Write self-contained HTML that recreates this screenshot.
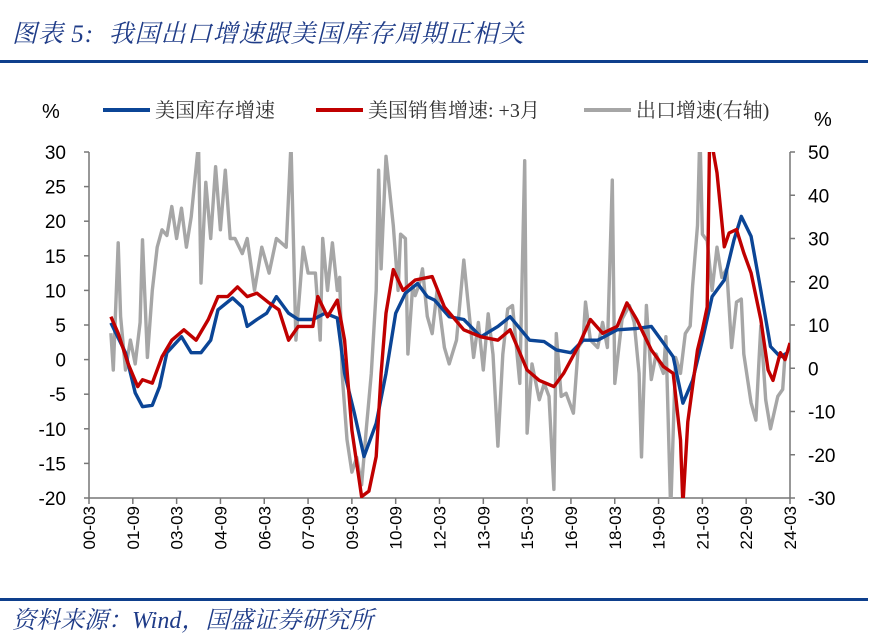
<!DOCTYPE html>
<html><head><meta charset="utf-8"><style>
body{margin:0;background:#fff;}
#wrap{position:relative;width:880px;height:637px;overflow:hidden;font-family:"Liberation Sans","Noto Sans CJK SC",sans-serif;}
</style></head><body>
<div id="wrap">
<div style="position:absolute;left:12px;top:14px;font-size:25px;letter-spacing:1px;font-style:italic;color:#1F3C88;font-family:'Liberation Serif','Noto Serif CJK SC',serif;">图表 5:&nbsp; 我国出口增速跟美国库存周期正相关</div>
<div style="position:absolute;left:0;top:60px;width:868px;height:3px;background:#0E3F8C;"></div>
<div style="position:absolute;left:0;top:598px;width:868px;height:3px;background:#0E3F8C;"></div>
<div style="position:absolute;left:12px;top:600px;font-size:24px;font-style:italic;color:#1F3C88;font-family:'Liberation Serif','Noto Serif CJK SC',serif;">资料来源：Wind，国盛证券研究所</div>
<svg id="chart" width="880" height="637" style="position:absolute;left:0;top:0"></svg>
</div>
<script>
// months since 2000-03
const blueMonths=[9,15,19,22,26,29,32,38,42,46,50,53,59,63,65,69,73,77,82,86,92,97,102,105,109,113,118,122,126,130,135,139,142,148,154,161,168,173,181,187,192,198,203,209,217,225,231,236,240,244,248,252,256,261,265,268,272,276,280,284,287];
const blueVals=[5.3,1,-4.8,-6.8,-6.6,-3.9,1,3.3,1,1,2.8,7.2,8.9,7.6,4.8,5.8,6.7,9.1,6.7,5.8,5.8,6.7,6,-2,-7.7,-14,-9.2,-2,6.7,9.6,11,9.1,8.6,6.2,5.8,3.3,4.8,6.2,2.8,2.6,1.4,1,2.8,2.8,4.3,4.5,4.8,2.4,0.4,-6.3,-3,2.8,9.1,11.5,17.3,20.7,17.8,10,1.9,0.4,1];
const redMonths=[9,12,16,20,22,26,30,34,39,44,49,53,57,61,65,69,74,78,82,86,92,94,98,102,105,108,112,115,118,120,122,125,129,134,141,146,154,161,168,173,180,185,191,195,201,206,211,217,221,225,231,236,240,243,244,246,250,252,254,255,258,261,263,266,269,272,276,279,281,284,286,288];
const redVals=[6.2,3.8,-0.5,-3.9,-2.9,-3.4,0.4,2.8,4.3,2.8,5.8,9.1,9.1,10.5,9.1,9.6,8.2,7.2,2.8,4.8,4.8,9.1,6.2,8.6,2.8,-10.2,-19.8,-19,-14,-2,6.7,13,10,11.5,12,7.6,4.3,3.3,2.8,4.3,-1.5,-3,-3.9,-2,1.9,5.8,3.8,4.8,8.2,5.8,1.4,-1,-2,-11.6,-21,-9,1.4,4.3,7.6,33,27,16.3,18.3,18.8,15.4,12.5,5.8,-1.5,-3,1,0,2.4];
const grayMonths=[9,10,12,13,15,17,19,21,22,24,26,28,30,32,34,36,38,40,42,45,46,48,50,52,54,56,58,60,63,65,68,71,74,77,79,81,83,85,88,90,93,95,96,98,100,102,103,104,106,108,110,112,114,116,118,119,120,122,125,127,128,130,131,133,134,136,137,139,141,143,146,148,151,154,156,158,160,162,164,166,168,170,172,174,177,179,180,182,185,187,189,191,192,194,196,199,201,203,204,206,209,211,213,215,216,219,222,224,226,227,229,231,233,236,237,239,241,243,245,247,248,250,251,252,254,256,258,260,262,264,266,268,269,272,274,276,278,280,283,285,286];
const grayVals=[8.1,-0.4,29,12,-0.4,6.5,1,10.6,29.7,2.5,18,28,32,30.7,37.4,30,37,28,35,52,19.7,43,30,46.6,32,45.8,30,30,26.5,30,18,28,22,30,29,28,52,6.5,28,22,22,6.5,30,18,29,18,21,-1.2,-16.5,-24,-20.6,-27,-13.5,-1.2,18,45.8,23,49,33,18,31,30,3.3,19,16.8,20,23,12,8,18,4.8,1,6.5,25,13.7,2.5,10.6,-0.4,12.6,3.2,-18,3.2,13.7,14.5,-3.5,48,-15,1,-7.3,-3.5,-6.5,-28,8,-6.5,-5.8,-10.4,4.8,6.5,15.3,6.5,4.8,10.6,4.8,43.5,-3.5,11.4,14.5,10.6,-1.2,-20.5,14.5,-2.6,3.3,-1.2,7.3,-33,2.5,-1.2,8,9.8,19,33,55,31,29.5,18,28,21,23,4.8,15.3,16,3.3,-8,-12,9.8,-7.3,-14,-6.5,-4.9,3.3];
const leftTicks=[30,25,20,15,10,5,0,-5,-10,-15,-20];
const rightTicks=[50,40,30,20,10,0,-10,-20,-30];
const xTickLabels=["00-03","01-09","03-03","04-09","06-03","07-09","09-03","10-09","12-03","13-09","15-03","16-09","18-03","19-09","21-03","22-09","24-03"];
const legendNames=["美国库存增速","美国销售增速: +3月","出口增速(右轴)"];

const L=89,R=790,T=152,B=498;
const x=m=>L+(R-L)*m/288;
const yL=v=>T+(30-v)*(B-T)/50;
const yR=v=>T+(50-v)*(B-T)/80;
const svg=document.getElementById('chart');
const NS='http://www.w3.org/2000/svg';
function mk(tag,attrs,parent){const e=document.createElementNS(NS,tag);for(const k in attrs)e.setAttribute(k,attrs[k]);(parent||svg).appendChild(e);return e;}

const defs=mk('defs',{});
const cp=mk('clipPath',{id:'plotclip'},defs);
mk('rect',{x:L,y:T,width:R-L,height:B-T},cp);

const ax=mk('g',{stroke:'#777','stroke-width':1.5,fill:'none'});


mk('line',{x1:L,y1:T,x2:L,y2:B},ax);
mk('line',{x1:R,y1:T,x2:R,y2:B},ax);
mk('line',{x1:L,y1:B,x2:R,y2:B},ax);
leftTicks.forEach(v=>{
  mk('line',{x1:L-5,y1:yL(v),x2:L,y2:yL(v)},ax);
  const t=mk('text',{x:66,y:yL(v)+7,'text-anchor':'end','font-size':19,fill:'#000'});
  
  
  t.textContent=v;
});
rightTicks.forEach(v=>{
  mk('line',{x1:R,y1:yR(v),x2:R+5,y2:yR(v)},ax);
  const t=mk('text',{x:808,y:yR(v)+7,'text-anchor':'start','font-size':19,fill:'#000'});
  
  
  t.textContent=v;
});
xTickLabels.forEach((lab,i)=>{
  const xx=x(i*18);
  mk('line',{x1:xx,y1:B,x2:xx,y2:B+6},ax);
  const t=mk('text',{x:0,y:0,'text-anchor':'end','font-size':17,fill:'#000',transform:`translate(${xx+6},${B+8}) rotate(-90)`});
  
  
  t.textContent=lab;
});
const pl=mk('text',{x:42,y:118,'font-size':20,fill:'#000'});pl.textContent='%';


const pr=mk('text',{x:814,y:126,'font-size':20,fill:'#000'});pr.textContent='%';



function series(ms,vs,yf,color,name){
  const d=ms.map((m,i)=>(i?'L':'M')+x(m).toFixed(1)+','+yf(vs[i]).toFixed(1)).join('');
  const p=mk('path',{d:d,fill:'none',stroke:color,'stroke-width':3.4,'stroke-linejoin':'round','clip-path':'url(#plotclip)'});
  
  
}
series(grayMonths,grayVals,yR,'#A6A6A6','export-growth-line');
series(blueMonths,blueVals,yL,'#0B4596','us-inventory-line');
series(redMonths,redVals,yL,'#C00000','us-sales-line');

const legColors=['#0B4596','#C00000','#A6A6A6'];
const legX=[103,316,584];
legendNames.forEach((n,i)=>{
  const g=mk('g',{});
  
  
  mk('line',{x1:legX[i],y1:110,x2:legX[i]+47,y2:110,stroke:legColors[i],'stroke-width':4},g);
  const t=mk('text',{x:legX[i]+52,y:117,'font-size':20,fill:'#333','font-family':"'Liberation Serif','Noto Serif CJK SC',serif"},g);
  t.textContent=n;
});
</script>
</body></html>
